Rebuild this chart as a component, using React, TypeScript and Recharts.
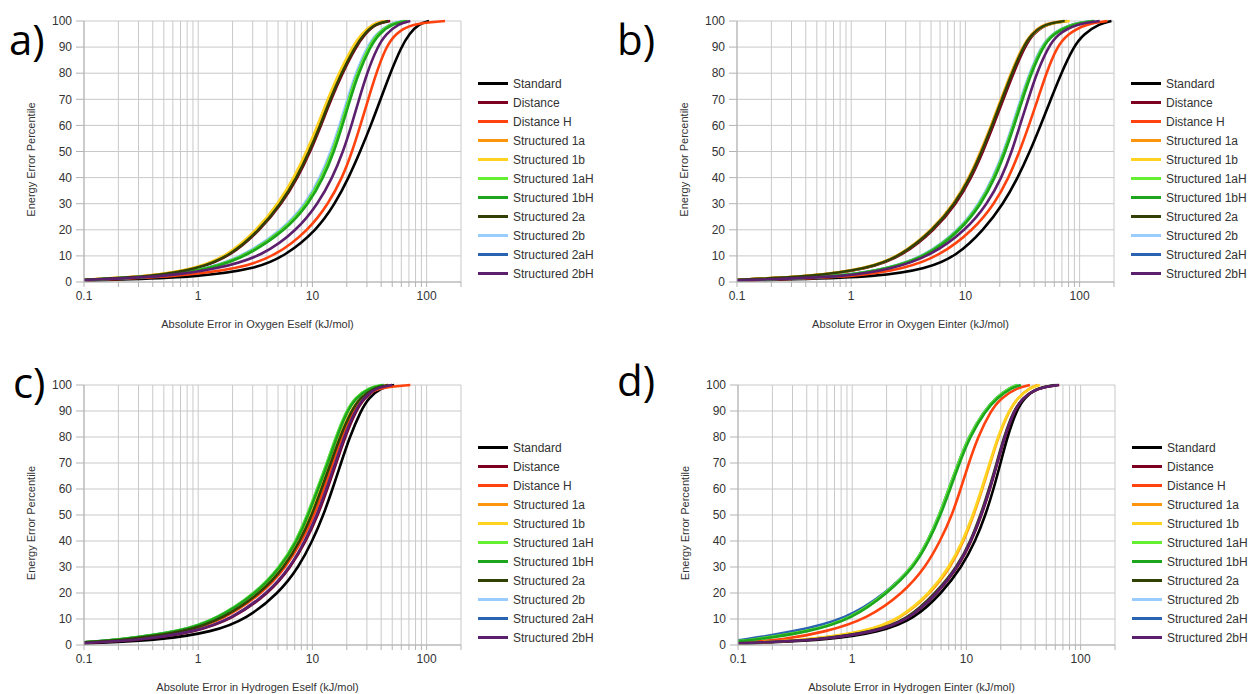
import React from 'react';
import { LineChart, Line, XAxis, YAxis, CartesianGrid, Legend, Label } from 'recharts';

// Cumulative percentile levels (y values) shared by every curve
const PERCENTILES = [0.3, 1, 2, 5, 10, 20, 30, 40, 50, 60, 70, 80, 90, 95, 99, 100];

const SERIES_NAMES = [
  'Standard', 'Distance', 'Distance H', 'Structured 1a', 'Structured 1b', 'Structured 1aH',
  'Structured 1bH', 'Structured 2a', 'Structured 2b', 'Structured 2aH', 'Structured 2bH',
];
const SERIES_COLORS = [
  '#000000', '#7e0021', '#ff420e', '#ff950e', '#ffd320', '#66ee33',
  '#1ea51e', '#314004', '#99ccff', '#2a64b0', '#5c1f6e',
];
const DRAW_ORDER = [0, 1, 2, 3, 4, 8, 9, 5, 6, 7, 10];

const X_TICKS = [
  0.1, 0.2, 0.3, 0.4, 0.5, 0.6, 0.7, 0.8, 0.9,
  1, 2, 3, 4, 5, 6, 7, 8, 9,
  10, 20, 30, 40, 50, 60, 70, 80, 90,
  100, 200,
];
const X_LABELED = [0.1, 1, 10, 100];
const Y_TICKS = [0, 10, 20, 30, 40, 50, 60, 70, 80, 90, 100];

// Absolute error (kJ/mol) reached at each percentile, one row per series (SERIES_NAMES order)
const PANEL_A_ERRORS = [
  [0.07, 0.25, 1.0, 3.2, 5.8, 11.0, 15.8, 20.8, 26.2, 32.5, 39.5, 48, 60, 70, 86, 105],
  [0.05, 0.12, 0.39, 1.02, 1.94, 3.5, 5.4, 7.45, 9.6, 11.9, 14.6, 18.3, 24, 28.8, 36, 48],
  [0.06, 0.15, 0.6, 2.3, 4.8, 9.3, 13.8, 18.3, 22.3, 26.3, 30.8, 36.2, 44, 53, 72, 145],
  [0.05, 0.11, 0.36, 0.96, 1.82, 3.3, 5.1, 7.0, 9.0, 11.2, 13.7, 17.2, 22.6, 27, 34, 42],
  [0.05, 0.11, 0.36, 0.95, 1.8, 3.28, 5.0, 6.9, 8.9, 11.1, 13.6, 17, 22.3, 26.8, 34, 44],
  [0.06, 0.12, 0.45, 1.25, 2.6, 5.7, 9.0, 12.1, 15.0, 17.8, 20.8, 24.6, 31, 37, 48, 65],
  [0.06, 0.12, 0.46, 1.3, 2.7, 5.9, 9.3, 12.5, 15.5, 18.3, 21.4, 25.3, 32, 38, 50, 68],
  [0.05, 0.12, 0.38, 1.0, 1.9, 3.45, 5.3, 7.3, 9.4, 11.7, 14.3, 17.9, 23.5, 28.2, 35.5, 46],
  [0.06, 0.12, 0.43, 1.2, 2.5, 5.5, 8.7, 11.7, 14.5, 17.3, 20.2, 23.9, 30, 36, 47, 62],
  [0.06, 0.12, 0.45, 1.25, 2.6, 5.7, 9.0, 12.1, 15.0, 17.8, 20.8, 24.6, 31, 37, 48, 64],
  [0.06, 0.13, 0.5, 1.5, 3.7, 7.4, 11.2, 15.0, 18.6, 22.0, 25.6, 30, 37, 44, 57, 72],
];

const PANEL_B_ERRORS = [
  [0.07, 0.3, 1.7, 4.6, 8.4, 14.5, 21.5, 28.8, 36.7, 45.5, 56, 69, 88, 108, 150, 190],
  [0.05, 0.12, 0.43, 1.45, 2.83, 5.4, 8.35, 11.3, 14.3, 17.6, 21.5, 26.3, 33, 39, 51, 78],
  [0.06, 0.2, 1.1, 2.9, 6.0, 11.8, 18.0, 24.0, 29.8, 36, 43, 51, 63, 78, 115, 175],
  [0.05, 0.12, 0.41, 1.37, 2.7, 5.15, 7.95, 10.8, 13.6, 16.8, 20.5, 25, 31.4, 37.5, 48, 72],
  [0.05, 0.12, 0.41, 1.38, 2.72, 5.2, 8.0, 10.9, 13.8, 16.9, 20.7, 25.2, 31.7, 38, 50, 82],
  [0.06, 0.16, 0.8, 2.1, 4.6, 9.0, 13.5, 17.8, 22, 26.3, 31, 37, 46.5, 57, 85, 132],
  [0.06, 0.16, 0.82, 2.15, 4.7, 9.2, 13.8, 18.2, 22.4, 26.8, 31.6, 37.7, 47.4, 58, 88, 135],
  [0.05, 0.12, 0.42, 1.4, 2.75, 5.25, 8.1, 11, 13.9, 17.1, 20.9, 25.5, 32, 38, 50, 74],
  [0.06, 0.16, 0.78, 2.05, 4.5, 8.8, 13.2, 17.4, 21.6, 25.8, 30.4, 36.3, 45.6, 56, 84, 128],
  [0.06, 0.16, 0.8, 2.1, 4.6, 9.0, 13.5, 17.8, 22, 26.3, 31, 37, 46.5, 57, 85, 130],
  [0.06, 0.18, 0.9, 2.3, 5.0, 10.2, 15.6, 20.8, 25.5, 30, 35.5, 42, 53, 64, 95, 150],
];

const PANEL_C_ERRORS = [
  [0.07, 0.18, 0.46, 1.35, 2.65, 5.1, 7.6, 10.0, 12.5, 15.0, 17.8, 21.2, 26.5, 31, 40, 52],
  [0.06, 0.13, 0.32, 0.95, 2.0, 4.2, 6.5, 8.8, 11.2, 13.5, 16.2, 19.3, 24, 28.5, 37, 50],
  [0.05, 0.11, 0.26, 0.8, 1.7, 3.7, 5.9, 8.1, 10.4, 12.6, 15.1, 18.0, 22.6, 27, 36, 72],
  [0.05, 0.1, 0.23, 0.75, 1.6, 3.5, 5.6, 7.7, 9.8, 11.9, 14.4, 17.2, 21.7, 26, 35, 45],
  [0.05, 0.1, 0.23, 0.74, 1.58, 3.45, 5.55, 7.6, 9.7, 11.8, 14.3, 17.1, 21.6, 26, 35, 46],
  [0.05, 0.1, 0.19, 0.68, 1.45, 3.2, 5.2, 7.2, 9.0, 11.0, 13.4, 16.0, 19.8, 23.5, 31, 40],
  [0.05, 0.1, 0.2, 0.7, 1.48, 3.27, 5.3, 7.35, 9.2, 11.2, 13.7, 16.3, 20.2, 24, 32, 42],
  [0.05, 0.1, 0.24, 0.77, 1.63, 3.55, 5.7, 7.8, 9.9, 12.0, 14.5, 17.4, 21.9, 26, 35, 46],
  [0.05, 0.1, 0.19, 0.68, 1.45, 3.2, 5.2, 7.2, 9.0, 11.0, 13.4, 16.0, 19.8, 23.5, 31, 41],
  [0.05, 0.1, 0.2, 0.69, 1.47, 3.23, 5.25, 7.3, 9.1, 11.1, 13.5, 16.2, 20, 23.8, 32, 42],
  [0.06, 0.13, 0.31, 0.93, 1.95, 4.1, 6.4, 8.6, 11.0, 13.2, 15.9, 18.9, 23.6, 28, 36, 50],
];

const PANEL_D_ERRORS = [
  [0.07, 0.2, 0.6, 1.77, 3.5, 6.1, 9.1, 12.0, 14.7, 17.3, 19.9, 22.8, 27.3, 32, 42, 60],
  [0.06, 0.17, 0.5, 1.6, 3.2, 5.6, 8.5, 11.1, 13.6, 16.1, 18.7, 21.6, 26.2, 31, 42, 65],
  [0.05, 0.1, 0.25, 0.58, 1.35, 2.8, 4.4, 5.9, 7.5, 8.9, 10.5, 12.6, 16.3, 20, 28, 36],
  [0.06, 0.15, 0.42, 1.35, 2.65, 4.9, 7.3, 9.5, 11.6, 13.8, 16.2, 19.0, 23.6, 28, 36, 42],
  [0.06, 0.15, 0.4, 1.3, 2.6, 4.8, 7.1, 9.3, 11.4, 13.6, 16.0, 18.8, 23.4, 28, 36, 44],
  [0.05, 0.08, 0.13, 0.4, 0.97, 2.0, 3.4, 4.6, 5.8, 7.0, 8.5, 10.4, 14.3, 18, 24, 28],
  [0.05, 0.08, 0.14, 0.42, 1.0, 2.05, 3.5, 4.7, 5.95, 7.2, 8.7, 10.7, 14.6, 18.5, 25, 30],
  [0.06, 0.16, 0.48, 1.55, 3.1, 5.4, 8.3, 10.9, 13.3, 15.8, 18.4, 21.3, 25.8, 31, 42, 62],
  [0.05, 0.07, 0.12, 0.36, 0.94, 2.0, 3.4, 4.6, 5.8, 7.0, 8.5, 10.4, 14.3, 18, 24, 29],
  [0.05, 0.07, 0.11, 0.3, 0.9, 1.98, 3.4, 4.6, 5.8, 7.0, 8.5, 10.4, 14.3, 18, 24, 28],
  [0.06, 0.17, 0.5, 1.6, 3.2, 5.55, 8.4, 11.0, 13.5, 16.0, 18.6, 21.5, 26.0, 31, 42, 64],
];

const PANEL_LABELS = ['a)', 'b)', 'c)', 'd)'];
const PANEL_TITLES = [
  'Absolute Error in Oxygen Eself (kJ/mol)',
  'Absolute Error in Oxygen Einter (kJ/mol)',
  'Absolute Error in Hydrogen Eself (kJ/mol)',
  'Absolute Error in Hydrogen Einter (kJ/mol)',
];
const Y_TITLE = 'Energy Error Percentile';

const FONT = '"Liberation Sans", Arial, sans-serif';
const LETTER_FONT = '"Open Sans", "DejaVu Sans", sans-serif';
const TEXT = '#333333';
const GRID = '#c9c9c9';
const AXIS = '#b3b3b3';

const toPoints = (xs: number[]) => xs.map((x, i) => ({ x, y: PERCENTILES[i] }));

const renderLegend = (props: any) => {
  const items = [...(props.payload || [])].sort(
    (a: any, b: any) => SERIES_NAMES.indexOf(a.value) - SERIES_NAMES.indexOf(b.value)
  );
  return (
    <div style={{ fontFamily: FONT, fontSize: 12, color: TEXT }}>
      {items.map((it: any) => (
        <div key={it.value} style={{ display: 'flex', alignItems: 'center', height: 19 }}>
          <span style={{ display: 'inline-block', width: 30, height: 3, background: it.color, marginRight: 5 }} />
          <span style={{ whiteSpace: 'nowrap' }}>{it.value}</span>
        </div>
      ))}
    </div>
  );
};

function Panel({ left, top, height, plotHeight, errors, title }: any) {
  const bottom = height - 21 - plotHeight - 30;
  return (
    <div style={{ position: 'absolute', left, top }}>
      <LineChart width={620} height={height} margin={{ top: 21, right: 159, bottom, left: 24 }}>
        <CartesianGrid stroke={GRID} strokeWidth={1} />
        <XAxis
          type="number"
          dataKey="x"
          scale="log"
          domain={[0.1, 200]}
          allowDataOverflow
          ticks={X_TICKS}
          interval={0}
          height={30}
          tickFormatter={(v: number) => (X_LABELED.includes(v) ? String(v) : '')}
          tick={{ fontSize: 12, fill: TEXT, fontFamily: FONT }}
          tickSize={5}
          tickMargin={4}
          stroke={AXIS}
        >
          <Label
            content={(p: any) => {
              const vb = p.viewBox || {};
              const cx = vb.x + vb.width / 2 - 15;
              const cy = vb.y + vb.height + 16;
              return (
                <text x={cx} y={cy} textAnchor="middle" fontSize={11} fill={TEXT} fontFamily={FONT}>
                  {title}
                </text>
              );
            }}
          />
        </XAxis>
        <YAxis
          type="number"
          domain={[0, 100]}
          ticks={Y_TICKS}
          interval={0}
          width={60}
          tick={{ fontSize: 12, fill: TEXT, fontFamily: FONT }}
          tickSize={8}
          tickMargin={4}
          stroke={AXIS}
        >
          <Label
            content={(p: any) => {
              const vb = p.viewBox || {};
              const cx = vb.x + 7;
              const cy = vb.y + vb.height / 2 + 8;
              return (
                <text
                  x={cx}
                  y={cy}
                  transform={`rotate(-90, ${cx}, ${cy})`}
                  textAnchor="middle"
                  dominantBaseline="central"
                  fontSize={11}
                  fill={TEXT}
                  fontFamily={FONT}
                >
                  {Y_TITLE}
                </text>
              );
            }}
          />
        </YAxis>
        <Legend
          layout="vertical"
          align="center"
          verticalAlign="middle"
          wrapperStyle={{ left: 478, top: 74, width: 150 }}
          content={renderLegend}
        />
        {DRAW_ORDER.map((i) => (
          <Line
            key={SERIES_NAMES[i]}
            data={toPoints(errors[i])}
            dataKey="y"
            name={SERIES_NAMES[i]}
            type="basis"
            stroke={SERIES_COLORS[i]}
            strokeWidth={2.6}
            dot={false}
            activeDot={false}
            isAnimationActive={false}
          />
        ))}
      </LineChart>
    </div>
  );
}

export default function App() {
  return (
    <div
      style={{
        position: 'absolute',
        left: 0,
        top: 0,
        width: 1256,
        height: 694,
        background: '#ffffff',
        overflow: 'hidden',
        fontFamily: FONT,
      }}
    >
      <Panel left={0} top={0} height={340} plotHeight={261} errors={PANEL_A_ERRORS} title={PANEL_TITLES[0]} />
      <Panel left={653} top={0} height={340} plotHeight={261} errors={PANEL_B_ERRORS} title={PANEL_TITLES[1]} />
      <Panel left={0} top={364} height={330} plotHeight={260} errors={PANEL_C_ERRORS} title={PANEL_TITLES[2]} />
      <Panel left={654} top={364} height={330} plotHeight={260} errors={PANEL_D_ERRORS} title={PANEL_TITLES[3]} />
      <svg width={1256} height={694} style={{ position: 'absolute', left: 0, top: 0, pointerEvents: 'none' }}>
        <text x={9} y={55} fontSize={42} fontFamily={LETTER_FONT} fill="#000">{PANEL_LABELS[0]}</text>
        <text x={617} y={55} fontSize={42} fontFamily={LETTER_FONT} fill="#000">{PANEL_LABELS[1]}</text>
        <text x={13} y={398} fontSize={42} fontFamily={LETTER_FONT} fill="#000">{PANEL_LABELS[2]}</text>
        <text x={617} y={396} fontSize={42} fontFamily={LETTER_FONT} fill="#000">{PANEL_LABELS[3]}</text>
      </svg>
    </div>
  );
}
